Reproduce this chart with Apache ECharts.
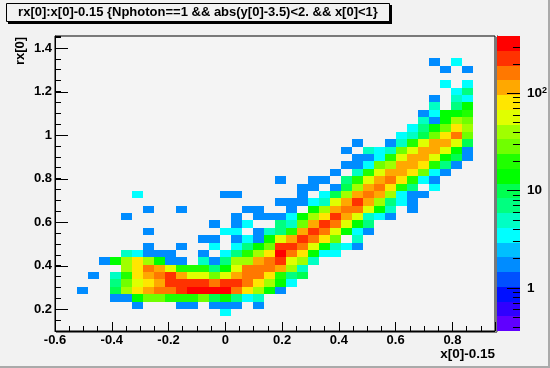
<!DOCTYPE html>
<html>
<head>
    <meta charset="UTF-8">
    <title>rx[0]:x[0]-0.15</title>
    <script type="text/javascript" src="https://cdn.jsdelivr.net/npm/echarts@6/dist/echarts.min.js"></script>
    <style>html,body{margin:0;padding:0;background:#f2f2f2}</style>
</head>
<body>
    <div id="hist" style="width:550px; height:368px;"></div>
    <script>
        var titleText = 'rx[0]:x[0]-0.15 {Nphoton==1 && abs(y[0]-3.5)<2. && x[0]<1}';
        var xRange = [-0.6, 0.95], yRange = [0.1, 1.455], zRange = [0.36, 385];
        var nBins = 40;
        var yMajorTicks = [0.2,0.4,0.6,0.8,1,1.2,1.4];
        // bottom to top, as on the colour bar
        var zPalette = ['#6000ff','#3000ff','#0010ff','#0050ff','#008cff','#00bfff','#00ffff','#00ffc4','#00ff80','#00ff50',
                        '#00ff00','#20ff00','#70ff00','#a0ff00','#e0ff00','#ffe600','#ffa800','#ff7800','#ff3200','#ff0000'];
        var zTicks = [0.4,0.5,0.6,0.7,0.8,0.9,2,3,4,5,6,7,8,9,20,30,40,50,60,70,80,90,200,300];
        var zMajorTicks = [1,10,100];
        // one list per y bin from the top of the plot: col, count, col, count...
        var rowCounts = [
            [], [], [],
            [34,2, 36,3],
            [35,2, 37,2],
            [],
            [35,3, 37,3],
            [36,3, 37,7],
            [34,2, 36,5, 37,3],
            [34,5, 36,7, 37,14],
            [33,2, 34,3, 35,14, 36,14, 37,20],
            [33,5, 34,2, 35,14, 36,40, 37,28],
            [32,3, 33,7, 34,14, 35,28, 36,81, 37,40],
            [31,3, 32,5, 33,10, 34,28, 35,81, 36,162, 37,28],
            [27,2, 30,2, 31,5, 32,20, 33,57, 34,115, 35,115, 36,57, 37,10],
            [26,2, 28,5, 29,3, 30,5, 31,28, 32,57, 33,115, 34,115, 35,57, 36,14, 37,2],
            [27,2, 28,2, 29,3, 30,20, 31,57, 32,115, 33,115, 34,57, 35,14, 36,10, 37,2],
            [26,2, 27,2, 28,3, 29,28, 30,40, 31,115, 32,115, 33,81, 34,20, 35,7, 36,2],
            [25,2, 27,5, 28,20, 29,57, 30,115, 31,115, 32,81, 33,28, 34,3, 35,2],
            [20,2, 23,2, 24,2, 26,7, 27,20, 28,57, 29,115, 30,162, 31,81, 32,20, 33,3, 34,2],
            [22,2, 23,2, 25,2, 26,10, 27,40, 28,115, 29,162, 30,81, 31,20, 32,7, 34,3],
            [7,3, 15,2, 16,2, 22,2, 24,3, 25,10, 26,40, 27,115, 28,162, 29,115, 30,40, 31,3, 32,2, 33,2],
            [20,2, 21,2, 22,2, 23,3, 24,5, 25,57, 26,115, 27,230, 28,115, 29,40, 30,7, 31,3, 32,2],
            [8,2, 11,2, 17,2, 18,2, 21,2, 23,14, 24,40, 25,115, 26,162, 27,162, 28,57, 29,14, 30,5, 32,2],
            [6,2, 16,2, 18,2, 19,2, 20,2, 21,3, 22,14, 23,40, 24,81, 25,230, 26,115, 27,57, 28,5, 29,3, 30,2],
            [14,2, 16,2, 17,3, 20,7, 21,5, 22,28, 23,115, 24,230, 25,162, 26,57, 27,14, 28,7],
            [8,2, 15,3, 16,3, 18,2, 19,5, 20,7, 21,20, 22,115, 23,230, 24,162, 25,57, 26,14, 27,3, 28,2],
            [13,2, 14,2, 16,2, 17,3, 18,2, 19,14, 20,57, 21,115, 22,230, 23,162, 24,81, 25,28, 27,5],
            [8,2, 11,2, 14,3, 16,3, 17,7, 18,14, 19,28, 20,230, 21,230, 22,162, 23,57, 24,14, 25,5, 26,3, 27,2],
            [6,5, 7,3, 8,2, 9,2, 10,2, 13,2, 15,3, 16,7, 17,20, 18,40, 19,81, 20,325, 21,162, 22,81, 23,14, 24,3, 25,3],
            [4,2, 5,14, 6,40, 7,81, 8,40, 9,14, 10,2, 11,2, 13,5, 14,2, 15,7, 16,40, 17,40, 18,115, 19,162, 20,230, 21,57, 22,40, 23,5],
            [6,40, 7,81, 8,162, 9,115, 10,57, 11,20, 12,20, 13,20, 14,7, 15,14, 16,57, 17,162, 18,162, 19,162, 20,115, 21,40, 22,5],
            [3,2, 5,5, 6,20, 7,81, 8,115, 9,162, 10,230, 11,115, 12,57, 13,57, 14,28, 15,57, 16,115, 17,162, 18,162, 19,81, 20,20, 21,7, 22,10],
            [5,7, 6,28, 7,57, 8,81, 9,115, 10,230, 11,230, 12,230, 13,230, 14,162, 15,230, 16,230, 17,162, 18,81, 19,40, 20,14, 21,3],
            [2,2, 5,10, 6,40, 7,81, 8,115, 9,162, 10,162, 11,230, 12,325, 13,325, 14,325, 15,325, 16,162, 17,81, 18,40, 19,14, 20,2],
            [5,2, 6,2, 7,14, 8,28, 9,28, 10,20, 11,20, 12,20, 13,28, 14,10, 15,14, 16,7, 17,3, 18,5],
            [7,2, 11,2, 12,2, 14,2, 15,2, 16,2, 18,2],
            [15,3],
            [], []
        ];

        var fontName = '"Liberation Sans", Arial, sans-serif';
        var binW = (xRange[1] - xRange[0]) / nBins, binH = (yRange[1] - yRange[0]) / nBins;
        var logLo = Math.log10(zRange[0]), logHi = Math.log10(zRange[1]);
        var bandH = (logHi - logLo) / zPalette.length;

        function zColor(count){
            var k = Math.floor((Math.log10(count) - logLo) / bandH);
            return zPalette[Math.max(0, Math.min(zPalette.length - 1, k))];
        }

        var cells = [];
        rowCounts.forEach(function(row, r){
            for (var i = 0; i < row.length; i += 2) {
                cells.push([xRange[0] + (row[i] + 0.5) * binW, yRange[1] - (r + 0.5) * binH, row[i + 1]]);
            }
        });
        var bands = zPalette.map(function(color, k){
            return [Math.pow(10, logLo + k * bandH), Math.pow(10, logLo + (k + 1) * bandH), k];
        });

        var chart = echarts.init(document.getElementById('hist'), null, {renderer: 'canvas'});
        chart.setOption({
            animation: false,
            backgroundColor: '#f2f2f2',
            textStyle: {fontFamily: fontName},
            grid: [
                {left: 55, top: 36, width: 440, height: 295, show: true, backgroundColor: '#f4f4f4', borderColor: '#000', borderWidth: 1},
                {left: 497, top: 36, width: 25, height: 295}
            ],
            xAxis: [
                {
                    type: 'value', gridIndex: 0, min: xRange[0], max: xRange[1], interval: 0.2,
                    splitLine: {show: false},
                    axisLine: {onZero: false, lineStyle: {color: '#000'}},
                    axisTick: {inside: true, length: 9, lineStyle: {color: '#000'}},
                    minorTick: {show: true, splitNumber: 4, length: 5, lineStyle: {color: '#000'}},
                    axisLabel: {
                        color: '#000', fontWeight: 'bold', fontSize: 13, margin: 3, showMaxLabel: false,
                        formatter: function(v){ return v > 0.9 ? '' : String(Math.round(v * 10) / 10); }
                    }
                },
                {type: 'value', gridIndex: 1, min: 0, max: 1, show: false}
            ],
            yAxis: [
                {
                    // ticks count from min, so step by the minor spacing and draw the long ticks below
                    type: 'value', gridIndex: 0, min: yRange[0], max: yRange[1], interval: 0.05,
                    splitLine: {show: false},
                    axisLine: {onZero: false, lineStyle: {color: '#000'}},
                    axisTick: {inside: true, length: 6, lineStyle: {color: '#000'}},
                    axisLabel: {
                        color: '#000', fontWeight: 'bold', fontSize: 13, margin: 3, interval: 0, showMinLabel: true, showMaxLabel: true,
                        formatter: function(v){
                            var n = Math.round(v * 100) / 100;
                            return yMajorTicks.indexOf(n) >= 0 ? String(n) : '';
                        }
                    }
                },
                {
                    type: 'log', gridIndex: 1, logBase: 10, position: 'right', min: zRange[0], max: zRange[1],
                    splitLine: {show: false},
                    axisLine: {show: true, lineStyle: {color: '#000'}},
                    axisTick: {show: false},
                    axisLabel: {
                        color: '#000', fontWeight: 'bold', fontSize: 13.5, margin: 7,
                        formatter: function(v){
                            var n = Math.round(v * 1000) / 1000;
                            if (n === 1) return '1';
                            if (n === 10) return '10';
                            if (n === 100) return '{base|10}{sup|2}';
                            return '';
                        },
                        rich: {
                            base: {fontFamily: fontName, fontWeight: 'bold', fontSize: 13.5, color: '#000'},
                            sup: {fontFamily: fontName, fontWeight: 'bold', fontSize: 9, color: '#000', verticalAlign: 'top', padding: [0, 0, 6, 0]}
                        }
                    }
                }
            ],
            series: [
                {
                    type: 'custom', name: 'cells', xAxisIndex: 0, yAxisIndex: 0, data: cells, silent: true,
                    encode: {x: 0, y: 1},
                    renderItem: function(params, api){
                        var x = api.value(0), y = api.value(1);
                        var p0 = api.coord([x - binW / 2, y + binH / 2]);
                        var p1 = api.coord([x + binW / 2, y - binH / 2]);
                        var x0 = Math.round(p0[0]), y0 = Math.round(p0[1]);
                        return {
                            type: 'rect',
                            shape: {x: x0, y: y0, width: Math.round(p1[0]) - x0, height: Math.round(p1[1]) - y0},
                            style: {fill: zColor(api.value(2))}
                        };
                    }
                },
                {
                    type: 'custom', name: 'yticks', xAxisIndex: 0, yAxisIndex: 0, silent: true,
                    data: yMajorTicks.map(function(t){ return [xRange[0], t]; }),
                    encode: {x: 0, y: 1},
                    renderItem: function(params, api){
                        var p = api.coord([api.value(0), api.value(1)]);
                        var y = Math.round(p[1]) + 0.5;
                        return {
                            type: 'line',
                            shape: {x1: p[0], y1: y, x2: p[0] + 13, y2: y},
                            style: {stroke: '#000', lineWidth: 1}
                        };
                    }
                },
                {
                    type: 'custom', name: 'zbands', xAxisIndex: 1, yAxisIndex: 1, data: bands, silent: true,
                    encode: {y: [0, 1]},
                    renderItem: function(params, api){
                        var p0 = api.coord([0, api.value(1)]);
                        var p1 = api.coord([1, api.value(0)]);
                        var y0 = Math.round(p0[1]);
                        return {
                            type: 'rect',
                            shape: {x: p0[0], y: y0, width: p1[0] - p0[0], height: Math.round(p1[1]) - y0},
                            style: {fill: zPalette[api.value(2)]}
                        };
                    }
                },
                {
                    type: 'custom', name: 'zticks', xAxisIndex: 1, yAxisIndex: 1, silent: true, clip: false,
                    data: zTicks.map(function(t){ return [1, t, 7]; }).concat(zMajorTicks.map(function(t){ return [1, t, 13]; })),
                    encode: {x: 0, y: 1},
                    renderItem: function(params, api){
                        var p = api.coord([1, api.value(1)]);
                        var y = Math.round(p[1]) + 0.5;
                        return {
                            type: 'line',
                            shape: {x1: p[0] - api.value(2), y1: y, x2: p[0], y2: y},
                            style: {stroke: '#000', lineWidth: 1}
                        };
                    }
                }
            ],
            graphic: [
                {type: 'rect', silent: true, z: -1, shape: {x: 548, y: 0, width: 2, height: 368}, style: {fill: '#aaaaaa'}},
                {type: 'rect', silent: true, z: -1, shape: {x: 0, y: 366, width: 550, height: 2}, style: {fill: '#aaaaaa'}},
                {type: 'rect', silent: true, shape: {x: 56, y: 332, width: 441, height: 1}, style: {fill: '#777777'}},
                {type: 'rect', silent: true, shape: {x: 496, y: 37, width: 1, height: 296}, style: {fill: '#777777'}},
                {type: 'rect', silent: true, shape: {x: 8, y: 5, width: 384, height: 19}, style: {fill: '#000'}},
                {type: 'rect', silent: true, shape: {x: 6.5, y: 3.5, width: 383, height: 18}, style: {fill: '#f2f2f2', stroke: '#000', lineWidth: 1}},
                {type: 'text', silent: true, style: {x: 198, y: 12.5, text: titleText, fill: '#000', font: 'bold 13px ' + fontName, align: 'center', verticalAlign: 'middle'}},
                {type: 'text', silent: true, rotation: Math.PI / 2, x: 20, y: 51, style: {x: 0, y: 0, text: 'rx[0]', fill: '#000', font: 'bold 13px ' + fontName, align: 'center', verticalAlign: 'middle'}},
                {type: 'text', silent: true, style: {x: 495, y: 354, text: 'x[0]-0.15', fill: '#000', font: 'bold 13.5px ' + fontName, align: 'right', verticalAlign: 'middle'}}
            ]
        });
    </script>
</body>
</html>
